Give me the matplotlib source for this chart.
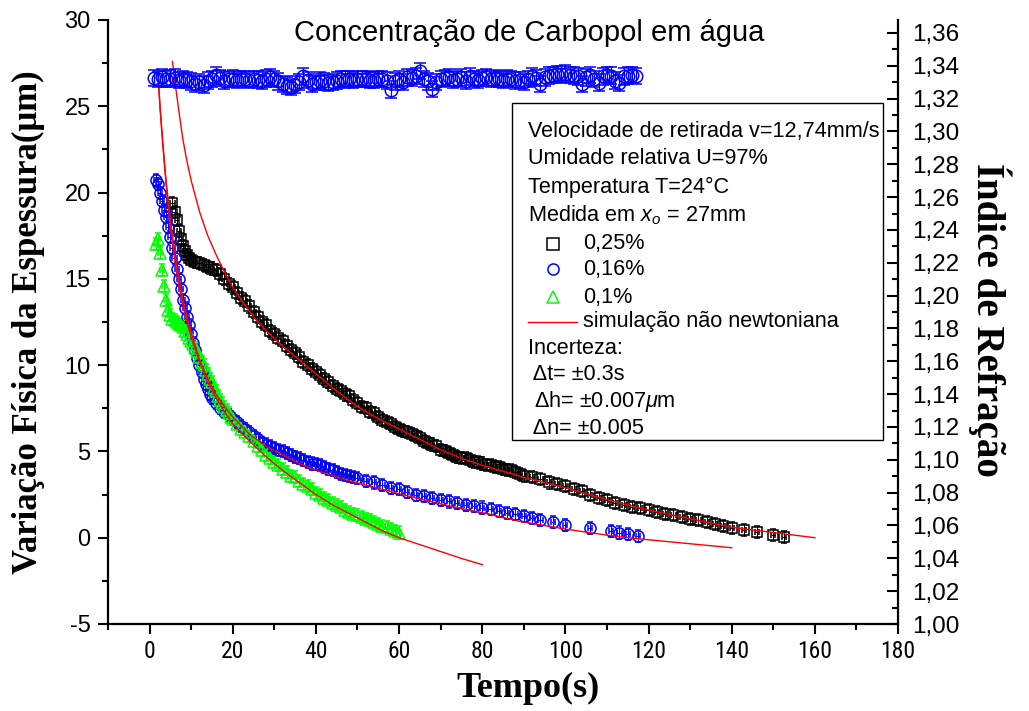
import matplotlib
matplotlib.use("Agg")
import matplotlib.pyplot as plt
from matplotlib import font_manager
from matplotlib.font_manager import FontProperties
from matplotlib.patches import Rectangle
from matplotlib.lines import Line2D
from matplotlib.ticker import MultipleLocator, FuncFormatter


def have(name):
    try:
        font_manager.findfont(FontProperties(family=name), fallback_to_default=False)
        return True
    except Exception:
        return False


SANS = "Liberation Sans" if have("Liberation Sans") else "DejaVu Sans"
NARROW = SANS
for cand in ["Liberation Sans Narrow", "Roboto Condensed", "Open Sans Condensed"]:
    if have(cand):
        NARROW = cand
        break
SERIF = "Liberation Serif" if have("Liberation Serif") else "DejaVu Serif"

plt.rcParams["font.family"] = [SANS, "DejaVu Sans"]
plt.rcParams["axes.unicode_minus"] = False
plt.rcParams["mathtext.fontset"] = "custom"
plt.rcParams["mathtext.rm"] = SANS
plt.rcParams["mathtext.it"] = SANS + ":italic"

# ---------------- data ----------------
# 0,25 % Carbopol (black squares)
t_025 = [5.5, 6, 6.5, 7, 7.5, 8, 8.5, 9, 9.5, 10, 11, 12, 13, 14, 15, 16, 17, 18, 19, 20,
         21, 22, 23, 24, 25, 26, 27, 28, 29, 30, 31, 32, 33, 34, 35, 36, 37, 38, 39, 40,
         41, 42, 43, 44, 45, 46, 47, 48, 49, 50, 51, 52, 53, 54, 55, 56, 57, 58, 59, 60,
         61, 62, 63, 64, 65, 66, 67, 68, 69, 70, 71, 72, 73, 74, 75, 76, 77, 78, 79, 80,
         81, 82, 83, 84, 85, 86, 87, 88, 89, 90, 92, 94, 96, 98, 100, 102, 104, 106, 108, 110,
         112, 114, 116, 118, 120, 122, 124, 126, 128, 130, 132, 134, 136, 138, 140, 143, 146, 150, 152.5]
h_025 = [19.4, 18.9, 18.4, 17.8, 17.3, 16.9, 16.6, 16.4, 16.2, 16.1, 16.0, 15.9, 15.8, 15.7, 15.6, 15.5, 15.3, 15.0, 14.7, 14.5,
         14.2, 13.9, 13.7, 13.4, 13.1, 12.8, 12.5, 12.3, 12.0, 11.8, 11.6, 11.4, 11.1, 10.9, 10.7, 10.5, 10.2, 10.0, 9.8, 9.6,
         9.4, 9.2, 9.0, 8.8, 8.6, 8.5, 8.3, 8.2, 8.0, 7.8, 7.6, 7.5, 7.3, 7.2, 7.0, 6.8, 6.7, 6.6, 6.4, 6.3,
         6.2, 6.1, 6.0, 5.9, 5.8, 5.6, 5.5, 5.4, 5.3, 5.1, 5.0, 4.9, 4.8, 4.7, 4.6, 4.6, 4.5, 4.4, 4.4, 4.3,
         4.2, 4.2, 4.1, 4.1, 4.0, 3.9, 3.9, 3.8, 3.7, 3.6, 3.5, 3.4, 3.2, 3.1, 3.0, 2.8, 2.7, 2.5, 2.3, 2.2,
         2.0, 1.9, 1.8, 1.7, 1.6, 1.5, 1.4, 1.3, 1.2, 1.1, 1.0, 0.9, 0.8, 0.7, 0.58, 0.46, 0.35, 0.17, 0.06]

# 0,16 % Carbopol (blue circles)
t_016 = [1.5, 2, 2.5, 3, 3.5, 4, 4.5, 5, 5.5, 6, 6.5, 7, 7.5, 8, 8.5, 9, 9.5, 10, 10.5, 11,
         11.5, 12, 12.5, 13, 13.5, 14, 14.5, 15, 16, 17, 18, 19, 20, 21, 22, 23, 24, 25, 26, 27,
         28, 29, 30, 31, 32, 33, 34, 35, 36, 37, 38, 39, 40, 41, 42, 43, 44, 45, 46, 47,
         48, 49, 50, 52, 54, 56, 58, 60, 62, 64, 66, 68, 70, 72, 74, 76, 78, 80, 82, 84,
         86, 88, 90, 92, 94, 97, 100, 106, 111, 113, 115, 117.5]
h_016 = [20.7, 20.5, 20.0, 19.5, 19.0, 18.6, 18.0, 17.4, 16.8, 16.2, 15.6, 15.0, 14.4, 13.8, 13.3, 12.8, 12.3, 11.8, 11.3, 10.9,
         10.4, 10.0, 9.6, 9.2, 8.9, 8.6, 8.3, 8.1, 7.8, 7.5, 7.3, 7.1, 6.9, 6.7, 6.5, 6.3, 6.1, 5.9, 5.7, 5.5,
         5.4, 5.3, 5.2, 5.1, 5.0, 4.9, 4.8, 4.7, 4.6, 4.5, 4.4, 4.3, 4.25, 4.2, 4.1, 4.0, 3.9, 3.8, 3.7, 3.65,
         3.6, 3.5, 3.45, 3.3, 3.2, 3.05, 2.9, 2.8, 2.65, 2.5, 2.4, 2.3, 2.2, 2.1, 2.0, 1.9, 1.85, 1.75, 1.65, 1.55,
         1.45, 1.35, 1.25, 1.15, 1.05, 0.9, 0.75, 0.55, 0.4, 0.3, 0.2, 0.1]

# 0,1 % Carbopol (green triangles)
t_010 = [1.5, 2, 2.5, 3, 3.5, 4, 4.5, 5, 5.5, 6, 6.5, 7, 7.5, 8, 8.5, 9, 9.5, 10, 10.5, 11,
         11.5, 12, 12.5, 13, 13.5, 14, 14.5, 15, 15.5, 16, 16.5, 17, 17.5, 18, 18.5, 19, 19.5, 20, 21, 22,
         23, 24, 25, 26, 27, 28, 29, 30, 31, 32, 33, 34, 35, 36, 37, 38, 39, 40, 41, 42,
         43, 44, 45, 46, 47, 48, 49, 50, 51, 52, 53, 54, 55, 56, 57, 58, 59, 60]
h_010 = [17.0, 17.3, 16.5, 15.5, 14.6, 13.8, 13.2, 12.9, 12.7, 12.6, 12.5, 12.4, 12.3, 12.2, 12.0, 11.8, 11.6, 11.4, 11.2, 11.0,
         10.8, 10.5, 10.2, 10.0, 9.7, 9.5, 9.2, 9.0, 8.7, 8.5, 8.2, 8.0, 7.8, 7.6, 7.4, 7.2, 7.0, 6.9, 6.6, 6.3,
         6.1, 5.9, 5.6, 5.3, 5.1, 4.8, 4.6, 4.4, 4.2, 4.0, 3.8, 3.6, 3.5, 3.3, 3.1, 3.0, 2.8, 2.6, 2.5, 2.3,
         2.2, 2.0, 1.9, 1.8, 1.6, 1.5, 1.4, 1.3, 1.2, 1.1, 1.0, 0.9, 0.8, 0.7, 0.6, 0.5, 0.4, 0.3]

# non-newtonian simulations (red lines)
t_sim025 = [5.5, 6, 7, 8, 9, 10, 12, 14, 16, 18, 20, 22, 25, 28, 32, 36, 40, 45, 50, 55,
            60, 65, 70, 75, 80, 90, 100, 110, 120, 130, 140, 150, 160]
h_sim025 = [27.6, 26.6, 24.8, 23.1, 21.8, 20.7, 18.9, 17.5, 16.4, 15.4, 14.5, 13.8, 12.8, 12.0, 11.1, 10.3, 9.5, 8.5, 7.6, 6.9,
            6.3, 5.7, 5.1, 4.6, 4.2, 3.5, 2.9, 2.2, 1.6, 1.1, 0.6, 0.3, 0.0]
t_sim016 = [2, 2.5, 3, 3.5, 4, 5, 6, 7, 8, 9, 10, 12, 14, 16, 18, 20, 24, 28, 32, 36,
            40, 48, 56, 64, 72, 80, 89, 100, 110, 117, 130, 140]
h_sim016 = [27.0, 25.0, 23.5, 22.0, 20.6, 18.4, 16.6, 15.1, 13.8, 12.8, 11.9, 10.3, 9.2, 8.3, 7.6, 7.0, 6.0, 5.3, 4.8, 4.3,
            3.9, 3.3, 2.8, 2.3, 1.85, 1.45, 0.95, 0.5, 0.15, -0.05, -0.35, -0.58]
t_sim010 = [2, 2.5, 3, 3.5, 4, 5, 6, 7, 8, 9, 10, 12, 14, 16, 18, 20, 24, 28, 32, 36,
            40, 44, 48, 52, 56, 60, 65, 70, 75, 80]
h_sim010 = [27.0, 25.0, 23.3, 21.8, 20.4, 18.0, 16.2, 14.7, 13.5, 12.5, 11.6, 10.2, 9.0, 8.1, 7.3, 6.6, 5.6, 4.7, 3.9, 3.2,
            2.5, 1.9, 1.4, 0.9, 0.4, 0.0, -0.4, -0.8, -1.2, -1.56]

# refractive index (blue circles, right axis)
t_idx = [1, 2, 3, 4, 5, 6, 7, 8, 9, 10, 11, 12, 13, 14, 15, 16, 17, 18, 19, 20,
         21, 22, 23, 24, 25, 26, 27, 28, 29, 30, 31, 32, 33, 34, 35, 36, 37, 38, 39, 40,
         41, 42, 43, 44, 45, 46, 47, 48, 49, 50, 51, 52, 53, 54, 55, 56, 57, 58, 59, 60,
         61, 62, 63, 64, 65, 66, 67, 68, 69, 70, 71, 72, 73, 74, 75, 76, 77, 78, 79, 80,
         81, 82, 83, 84, 85, 86, 87, 88, 89, 90, 91, 92, 93, 94, 95, 96, 97, 98, 99, 100,
         101, 102, 103, 104, 105, 106, 107, 108, 109, 110, 111, 112, 113, 114, 115, 116, 117]
n_idx = [1.3325, 1.3320, 1.3330, 1.3318, 1.3322, 1.3328, 1.3315, 1.3320, 1.3312, 1.3305,
         1.3290, 1.3300, 1.3285, 1.3310, 1.3318, 1.3345, 1.3325, 1.3310, 1.3318, 1.3322,
         1.3315, 1.3320, 1.3318, 1.3312, 1.3320, 1.3316, 1.3310, 1.3322, 1.3330, 1.3318,
         1.3305, 1.3290, 1.3280, 1.3270, 1.3285, 1.3300, 1.3335, 1.3315, 1.3290, 1.3300,
         1.3310, 1.3305, 1.3295, 1.3300, 1.3310, 1.3318, 1.3316, 1.3318, 1.3312, 1.3320,
         1.3318, 1.3320, 1.3315, 1.3312, 1.3318, 1.3320, 1.3310, 1.3255, 1.3305, 1.3320,
         1.3300, 1.3330, 1.3325, 1.3338, 1.3370, 1.3320, 1.3305, 1.3260, 1.3300, 1.3320,
         1.3325, 1.3330, 1.3315, 1.3320, 1.3330, 1.3310, 1.3335, 1.3320, 1.3315, 1.3325,
         1.3330, 1.3318, 1.3325, 1.3320, 1.3315, 1.3322, 1.3318, 1.3310, 1.3312, 1.3300,
         1.3320, 1.3338, 1.3325, 1.3290, 1.3330, 1.3340, 1.3345, 1.3350, 1.3348, 1.3352,
         1.3345, 1.3340, 1.3335, 1.3290, 1.3330, 1.3345, 1.3320, 1.3298, 1.3335, 1.3345,
         1.3340, 1.3310, 1.3295, 1.3335, 1.3340, 1.3345, 1.3338]
dn_idx = 0.005

err_t = 0.5
err_h = 0.35

title = "Concentração de Carbopol em água"
xlabel = "Tempo(s)"
ylabel = "Variação Física da Espessura(μm)"
y2label = "Índice de Refração"
labels = ["0,25%", "0,16%", "0,1%", "simulação não newtoniana"]
info_lines = ["Velocidade de retirada v=12,74mm/s", "Umidade relativa U=97%",
              "Temperatura T=24°C", r"Medida em $\mathit{x}_{\mathit{o}}$ = 27mm"]
unc_lines = ["Incerteza:", " Δt= ±0.3s", r" Δh= ±0.007$\mu$m", " Δn= ±0.005"]

BLACK, BLUE, GREEN, RED = "#000000", "#0000FF", "#00FF00", "#FF0000"

# ---------------- figure ----------------
fig = plt.figure(figsize=(10.29, 7.11), dpi=100)
ax = fig.add_axes([108 / 1029, 87 / 711, 790 / 1029, 604 / 711])
ax.set_xlim(-10, 180)
ax.set_ylim(-5, 30)

ax.plot(t_sim025, h_sim025, color=RED, lw=1.0, zorder=4)
ax.plot(t_sim016, h_sim016, color=RED, lw=1.0, zorder=4)
ax.plot(t_sim010, h_sim010, color=RED, lw=1.0, zorder=4)

ax.errorbar(t_025, h_025, xerr=err_t, yerr=err_h, fmt="s", ms=7, mfc="none", mec=BLACK, mew=1.1,
            ecolor=BLACK, elinewidth=0.8, capsize=2.5, capthick=0.8, zorder=3)
ax.errorbar(t_016, h_016, xerr=err_t, yerr=err_h, fmt="o", ms=8, mfc="none", mec=BLUE, mew=1.1,
            ecolor=BLUE, elinewidth=0.8, capsize=2.5, capthick=0.8, zorder=3)
ax.errorbar(t_010, h_010, xerr=err_t, yerr=err_h, fmt="^", ms=8, mfc="none", mec=GREEN, mew=1.1,
            ecolor=GREEN, elinewidth=0.8, capsize=2.5, capthick=0.8, zorder=3)

ax.spines["top"].set_visible(False)
ax.spines["right"].set_visible(False)
for s in ["left", "bottom"]:
    ax.spines[s].set_linewidth(1.6)

ax.xaxis.set_major_locator(MultipleLocator(20))
ax.xaxis.set_minor_locator(MultipleLocator(10))
ax.yaxis.set_major_locator(MultipleLocator(5))
ax.yaxis.set_minor_locator(MultipleLocator(2.5))
ax.tick_params(axis="both", which="major", direction="out", length=7.5, width=1.5)
ax.tick_params(axis="both", which="minor", direction="out", length=4, width=1.5)
ax.tick_params(axis="y", which="major", labelsize=17, pad=5)
ax.tick_params(axis="x", which="major", labelsize=17, pad=4)
ax.tick_params(top=False, right=False, which="both")
for lab in ax.get_xticklabels():
    lab.set_family(NARROW)

# right axis: refractive index
ax2 = ax.twinx()
ax2.set_ylim(1.0, 1.0 + 604 / 1641.7)
ax2.errorbar(t_idx, n_idx, yerr=dn_idx, fmt="o", ms=9, mfc="none", mec=BLUE, mew=1.1,
             ecolor=BLUE, elinewidth=0.9, capsize=4, capthick=0.9, zorder=3)
for s in ["top", "left", "bottom"]:
    ax2.spines[s].set_visible(False)
ax2.spines["right"].set_linewidth(1.6)
ax2.yaxis.set_major_locator(MultipleLocator(0.02))
ax2.yaxis.set_minor_locator(MultipleLocator(0.01))
ax2.yaxis.set_major_formatter(FuncFormatter(lambda v, p: f"{v:.2f}".replace(".", ",")))
ax2.tick_params(axis="y", which="major", direction="in", length=8, width=1.5, labelsize=17.5, pad=10)
ax2.tick_params(axis="y", which="minor", direction="in", length=4, width=1.5)

# labels
ax.set_xlabel(xlabel, family=SERIF, fontweight="bold", fontsize=26, va="center")
ax.xaxis.set_label_coords((528 - 108) / 790, (624 - 688) / 604)
ax.set_ylabel(ylabel, family=SERIF, fontweight="bold", fontsize=25, va="center")
ax.yaxis.set_label_coords((28 - 108) / 790, 0.5)
ax2.set_ylabel(y2label, family=SERIF, fontweight="bold", fontsize=28, rotation=270, va="center")
ax2.yaxis.set_label_coords((990 - 108) / 790, (624 - 320) / 604)

ax2.text((529 - 108) / 790, (624 - 33) / 604, title, transform=ax2.transAxes,
         ha="center", va="center", fontsize=21)


# legend box (drawn by hand)
def ax_x(px):
    return (px - 108) / 790


def ax_y(py):
    return (624 - py) / 604


ax2.add_patch(Rectangle((ax_x(512), ax_y(440)), ax_x(883) - ax_x(512), ax_y(103) - ax_y(440),
                        transform=ax2.transAxes, facecolor="white", edgecolor="black", lw=1.0, zorder=6))
fs = 15.6
ys_info = [131, 158, 187, 215]
for txt, py in zip(info_lines, ys_info):
    ax2.text(ax_x(528), ax_y(py), txt, transform=ax2.transAxes, fontsize=fs, va="center", zorder=7)
sym = [("s", BLACK), ("o", BLUE), ("^", GREEN)]
ys_sym = [244, 269, 297]
for (m, c), lab, py in zip(sym, labels[:3], ys_sym):
    ax2.add_line(Line2D([ax_x(553)], [ax_y(py)], marker=m, ms=8, mfc="none", mec=c, mew=1.1,
                        transform=ax2.transAxes, zorder=7))
    ax2.text(ax_x(583), ax_y(py), lab, transform=ax2.transAxes, fontsize=fs, va="center", zorder=7)
ax2.add_line(Line2D([ax_x(528), ax_x(577)], [ax_y(322), ax_y(322)], color=RED, lw=1.0,
                    transform=ax2.transAxes, zorder=7))
ax2.text(ax_x(583), ax_y(322), labels[3], transform=ax2.transAxes, fontsize=fs, va="center", zorder=7)
ys_unc = [348, 375, 402, 428]
for txt, py in zip(unc_lines, ys_unc):
    ax2.text(ax_x(528), ax_y(py), txt, transform=ax2.transAxes, fontsize=fs, va="center", zorder=7)

fig.savefig("out.png", dpi=100)
